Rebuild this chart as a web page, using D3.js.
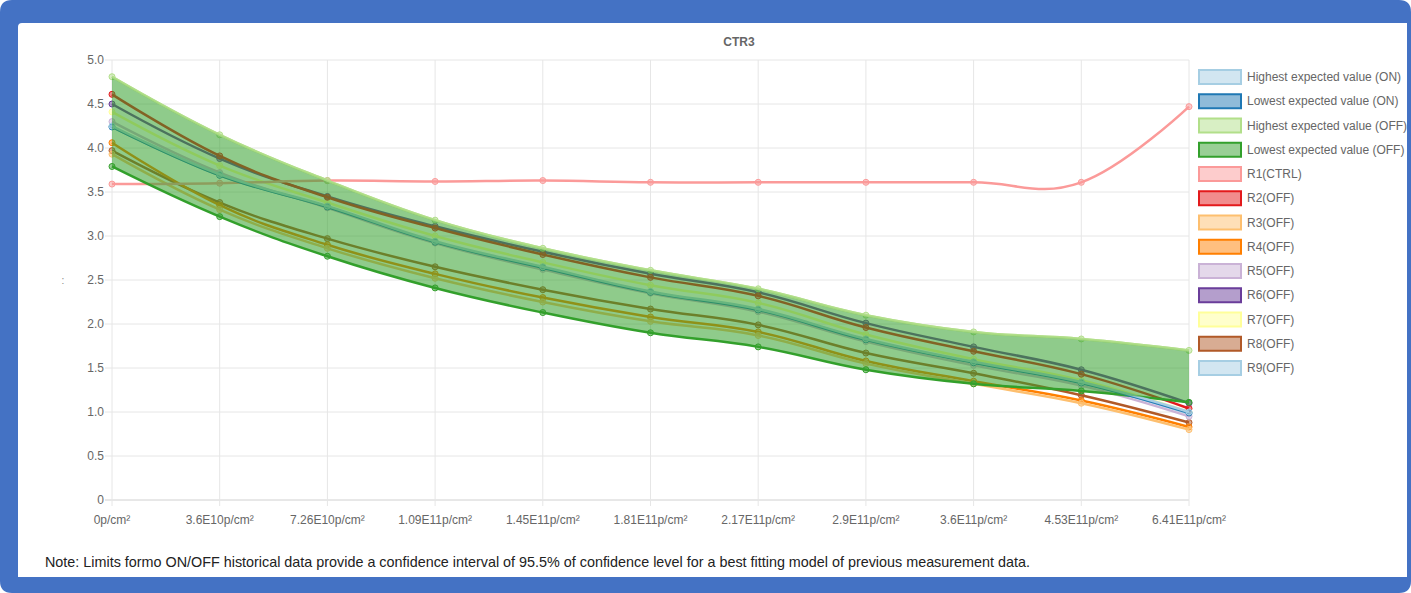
<!DOCTYPE html>
<meta charset="utf-8">
<style>
  body { margin: 0; background: #fff; }
  text { font-family: "Liberation Sans", Arial, sans-serif; }
  .grid line { stroke: #e6e6e6; stroke-width: 1; }
  .tick-label { fill: #666; font-size: 12px; }
</style>
<svg width="1411" height="593"></svg>
<script src="https://cdnjs.cloudflare.com/ajax/libs/d3/7.8.5/d3.min.js"></script>
<script>

var categories = ["0p/cm²", "3.6E10p/cm²", "7.26E10p/cm²", "1.09E11p/cm²", "1.45E11p/cm²",
                  "1.81E11p/cm²", "2.17E11p/cm²", "2.9E11p/cm²", "3.6E11p/cm²", "4.53E11p/cm²", "6.41E11p/cm²"];
var yTicks = [0, 0.5, 1, 1.5, 2, 2.5, 3, 3.5, 4, 4.5, 5];
var yTickLabels = ["0", "0.5", "1.0", "1.5", "2.0", "2.5", "3.0", "3.5", "4.0", "4.5", "5.0"];

var highestOn  = [4.25, 3.70, 3.34, 2.94, 2.65, 2.37, 2.17, 1.83, 1.57, 1.34, 1.00];
var lowestOn   = [4.24, 3.69, 3.33, 2.93, 2.64, 2.36, 2.16, 1.82, 1.56, 1.33, 0.99];
var highestOff = [4.81, 4.15, 3.63, 3.18, 2.86, 2.61, 2.40, 2.10, 1.91, 1.83, 1.70];
var lowestOff  = [3.79, 3.22, 2.77, 2.41, 2.13, 1.90, 1.74, 1.48, 1.32, 1.24, 1.11];
var r1 = [3.59, 3.60, 3.63, 3.62, 3.63, 3.61, 3.61, 3.61, 3.61, 3.61, 4.47];
var r2 = [4.61, 3.91, 3.44, 3.09, 2.79, 2.53, 2.32, 1.96, 1.69, 1.43, 1.04];
var r3 = [3.93, 3.30, 2.86, 2.52, 2.25, 2.03, 1.87, 1.55, 1.32, 1.10, 0.80];
var r4 = [4.06, 3.35, 2.90, 2.57, 2.30, 2.08, 1.91, 1.58, 1.35, 1.13, 0.83];
var r5 = [4.30, 3.72, 3.32, 2.92, 2.62, 2.35, 2.14, 1.80, 1.53, 1.30, 0.95];
var r6 = [4.50, 3.88, 3.45, 3.11, 2.82, 2.57, 2.36, 2.01, 1.74, 1.48, 1.10];
var r7 = [4.41, 3.80, 3.38, 3.00, 2.70, 2.44, 2.24, 1.88, 1.60, 1.36, 1.00];
var r8 = [3.97, 3.38, 2.97, 2.65, 2.39, 2.17, 1.99, 1.67, 1.44, 1.19, 0.88];
var r9 = [4.24, 3.69, 3.33, 2.93, 2.64, 2.36, 2.16, 1.82, 1.56, 1.33, 0.98];

var seriesNames = ["Highest expected value (ON)", "Lowest expected value (ON)",
                   "Highest expected value (OFF)", "Lowest expected value (OFF)",
                   "R1(CTRL)", "R2(OFF)", "R3(OFF)", "R4(OFF)", "R5(OFF)",
                   "R6(OFF)", "R7(OFF)", "R8(OFF)", "R9(OFF)"];
var seriesValues = [highestOn, lowestOn, highestOff, lowestOff, r1, r2, r3, r4, r5, r6, r7, r8, r9];

var series = seriesNames.map(function(name, i) {
  return { name: name, values: seriesValues[i], color: d3.schemePaired[i % 12] };
});

var svg = d3.select("svg");

var x = d3.scalePoint().domain(categories).range([112, 1189]);
var y = d3.scaleLinear().domain([0, 5]).range([500, 60]);
var curve = d3.curveCardinal.tension(-0.2);

function alpha(c, a) {
  var col = d3.color(c);
  col.opacity = a;
  return col + "";
}

// grid
var grid = svg.append("g").attr("class", "grid");
grid.selectAll(".h").data(yTicks).join("line")
    .attr("x1", 105).attr("x2", 1189)
    .attr("y1", function(d) { return y(d); })
    .attr("y2", function(d) { return y(d); })
    .style("stroke", function(d) { return d === 0 ? "#d0d0d0" : null; });
grid.selectAll(".v").data(categories).join("line")
    .attr("x1", function(d) { return x(d); })
    .attr("x2", function(d) { return x(d); })
    .attr("y1", 60).attr("y2", 506);

// tick labels
svg.append("g").selectAll("text").data(yTicks).join("text")
    .attr("class", "tick-label")
    .attr("x", 104)
    .attr("y", function(d) { return y(d) + 4; })
    .attr("text-anchor", "end")
    .text(function(d, i) { return yTickLabels[i]; });

svg.append("g").selectAll("text").data(categories).join("text")
    .attr("class", "tick-label")
    .attr("x", function(d) { return x(d); })
    .attr("y", 524)
    .attr("text-anchor", "middle")
    .text(function(d) { return d; });

svg.append("text")
    .attr("x", 63).attr("y", 284)
    .attr("text-anchor", "middle")
    .style("fill", "#888").style("font-size", "10px")
    .text(":");

svg.append("text")
    .attr("x", 739).attr("y", 46)
    .attr("text-anchor", "middle")
    .style("fill", "#666").style("font-size", "12px").style("font-weight", "bold")
    .text("CTR3");

var line = d3.line()
    .x(function(d, i) { return x(categories[i]); })
    .y(function(d) { return y(d); })
    .curve(curve);

// lines, last dataset drawn first
var plot = svg.append("g");
series.slice().reverse().forEach(function(s) {
  plot.append("path")
      .datum(s.values)
      .attr("d", line)
      .attr("fill", "none")
      .attr("stroke", s.color)
      .attr("stroke-width", 2.5);
  plot.append("g").selectAll("circle").data(s.values).join("circle")
      .attr("cx", function(d, i) { return x(categories[i]); })
      .attr("cy", function(d) { return y(d); })
      .attr("r", 3)
      .attr("fill", alpha(s.color, 0.5))
      .attr("stroke", s.color)
      .attr("stroke-width", 1);
});

// OFF confidence band drawn over the run lines
var band = d3.area()
    .x(function(d, i) { return x(categories[i]); })
    .y0(function(d, i) { return y(lowestOff[i]); })
    .y1(function(d) { return y(d); })
    .curve(curve);

plot.append("path")
    .datum(highestOff)
    .attr("d", band)
    .attr("fill", "rgba(51,160,44,0.55)");

plot.append("path")
    .datum(highestOff)
    .attr("d", line)
    .attr("fill", "none")
    .attr("stroke", alpha(d3.schemePaired[2], 0.8))
    .attr("stroke-width", 2.5);

// legend
var legend = svg.append("g").selectAll("g").data(series).join("g")
    .attr("transform", function(d, i) { return "translate(1199," + (77 + i * 24.25) + ")"; });
legend.append("rect")
    .attr("x", 0).attr("y", -7)
    .attr("width", 42).attr("height", 14)
    .attr("fill", function(d) { return alpha(d.color, 0.5); })
    .attr("stroke", function(d) { return d.color; })
    .attr("stroke-width", 2);
legend.append("text")
    .attr("x", 48).attr("y", 4)
    .style("fill", "#666").style("font-size", "12px")
    .text(function(d) { return d.name; });

// note
var note = svg.append("text")
    .attr("x", 45).attr("y", 567)
    .style("fill", "#222").style("font-size", "13px")
    .text("Note: Limits formo ON/OFF historical data provide a confidence interval of 95.5% of confidence level for a best fitting model of previous measurement data.");
var len = note.node().getComputedTextLength();
note.style("font-size", (13 * 985 / len).toFixed(2) + "px");

// blue frame
svg.append("path")
    .attr("fill-rule", "evenodd")
    .attr("fill", "#4472c4")
    .attr("d", "M12,0 H1399 Q1411,0 1411,12 V581 Q1411,593 1399,593 H12 Q0,593 0,581 V12 Q0,0 12,0 Z " +
               "M22,23 H1407 V577 H18 V27 Q18,23 22,23 Z");

</script>
